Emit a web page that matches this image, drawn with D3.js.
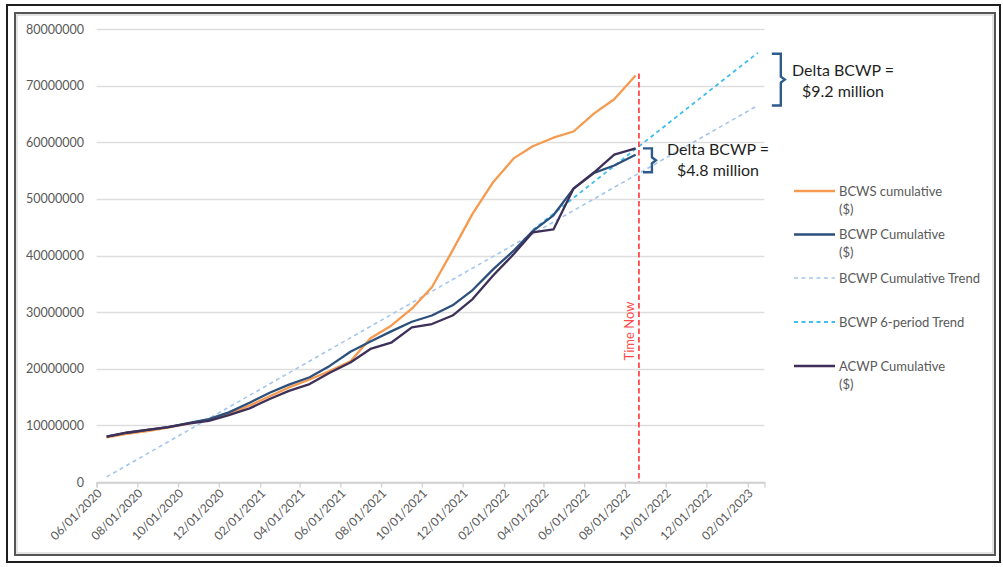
<!DOCTYPE html>
<html><head><meta charset="utf-8">
<script src="https://cdn.jsdelivr.net/npm/d3@7"></script>
<style>
body{margin:0;background:#fff;}
svg{display:block;font-family:Lato,"Open Sans",sans-serif;}
</style>
</head><body>
<svg id="chart" width="1003" height="567"></svg>
<script>
// ---- data ----
const dates = ["2020-06-16","2020-07-16","2020-08-16","2020-09-16","2020-10-16","2020-11-16","2020-12-16",
  "2021-01-16","2021-02-16","2021-03-16","2021-04-16","2021-05-16","2021-06-16","2021-07-16","2021-08-16",
  "2021-09-16","2021-10-16","2021-11-16","2021-12-16","2022-01-16","2022-02-16","2022-03-16","2022-04-16",
  "2022-05-16","2022-06-16","2022-07-16","2022-08-17"];
const bcws = [7.9e6,8.5e6,9.0e6,9.6e6,10.3e6,11.0e6,12.0e6,13.5e6,15.2e6,16.7e6,18.1e6,19.6e6,21.3e6,25.4e6,
  27.6e6,30.6e6,34.4e6,40.9e6,47.4e6,53.0e6,57.2e6,59.3e6,60.8e6,61.9e6,65.1e6,67.6e6,71.8e6];
const bcwp = [8.0e6,8.7e6,9.2e6,9.7e6,10.4e6,11.1e6,12.3e6,14.0e6,15.8e6,17.2e6,18.5e6,20.5e6,23.0e6,24.8e6,
  26.6e6,28.3e6,29.4e6,31.2e6,33.9e6,37.6e6,40.9e6,44.3e6,47.1e6,51.8e6,54.6e6,55.9e6,57.8e6];
const acwp = [8.0e6,8.7e6,9.2e6,9.7e6,10.3e6,10.8e6,11.8e6,13.0e6,14.7e6,16.1e6,17.3e6,19.3e6,21.1e6,23.5e6,
  24.6e6,27.3e6,27.9e6,29.4e6,32.3e6,36.5e6,40.3e6,44.1e6,44.6e6,51.8e6,54.7e6,57.8e6,58.9e6];
const trendDates = ["2020-06-16","2023-02-16"];
const trendValues = [0.9e6, 66.5e6];
const trend6Dates = ["2022-03-16","2023-02-16"];
const trend6Values = [44.5e6, 75.8e6];
const timeNowDate = "2022-08-22";
const xTickDates = ["2020-06-01","2020-08-01","2020-10-01","2020-12-01","2021-02-01","2021-04-01","2021-06-01",
  "2021-08-01","2021-10-01","2021-12-01","2022-02-01","2022-04-01","2022-06-01","2022-08-01","2022-10-01",
  "2022-12-01","2023-02-01"];
const xTickLabels = ["06/01/2020","08/01/2020","10/01/2020","12/01/2020","02/01/2021","04/01/2021","06/01/2021",
  "08/01/2021","10/01/2021","12/01/2021","02/01/2022","04/01/2022","06/01/2022","08/01/2022","10/01/2022",
  "12/01/2022","02/01/2023"];
const yTicks = [0,10000000,20000000,30000000,40000000,50000000,60000000,70000000,80000000];
const legendNames = [["BCWS cumulative","($)"],["BCWP Cumulative","($)"],["BCWP Cumulative Trend"],["BCWP 6-period Trend"],["ACWP Cumulative","($)"]];
const deltaLabels = [["Delta BCWP =","$9.2 million"],["Delta BCWP =","$4.8 million"]];

// ---- styles ----
const C = {bcws:"#F59A4E", bcwp:"#2D4F7C", acwp:"#3E2F58", trend:"#A4C6EC", trend6:"#3FBDF0", now:"#FF4B4B", brace:"#2E5A8C"};

const parse = d3.timeParse("%Y-%m-%d");
const svg = d3.select("#chart");

// frame
svg.append("rect").attr("x",0).attr("y",0).attr("width",1003).attr("height",567).attr("fill","#fff");
svg.append("rect").attr("x",7).attr("y",5).attr("width",993).attr("height",557).attr("fill","none").attr("stroke","#1e1e1e").attr("stroke-width",2);
svg.append("rect").attr("x",15).attr("y",13).attr("width",980).attr("height",542).attr("fill","none").attr("stroke","#555").attr("stroke-width",2);
svg.append("rect").attr("x",17).attr("y",15).attr("width",976).attr("height",538).attr("fill","none").attr("stroke","#c8c8c8").attr("stroke-width",1);

const x = d3.scaleTime().domain([parse("2020-06-01"), parse("2023-02-26")]).range([96.6, 764.5]);
const y = d3.scaleLinear().domain([0, 80000000]).range([482, 29]);

// gridlines
svg.append("g").selectAll("line").data(yTicks).join("line")
  .attr("x1", x.range()[0]).attr("x2", x.range()[1])
  .attr("y1", d=>Math.round(y(d))+0.5).attr("y2", d=>Math.round(y(d))+0.5)
  .attr("stroke", d=> d===0 ? "#d0d0d0" : "#dedede").attr("stroke-width",1.3);

// y labels
svg.append("g").selectAll("text").data(yTicks).join("text")
  .attr("x", 84).attr("y", d=>y(d)).attr("dy","0.36em").attr("text-anchor","end")
  .attr("font-size",12.5).attr("fill","#595959").text(d=>d3.format("d")(d));

// x axis
const xAxis = d3.axisBottom(x).tickValues(xTickDates.map(parse)).tickSize(5).tickFormat(()=> "");
const gx = svg.append("g").attr("transform","translate(0,482.5)").call(xAxis);
gx.select(".domain").attr("stroke","#d0d0d0").attr("stroke-width",1.3);
gx.selectAll(".tick line").attr("stroke","#d0d0d0").attr("stroke-width",1.3);
svg.append("g").selectAll("text").data(xTickDates).join("text")
  .attr("transform",(d)=>`translate(${x(parse(d))+3},${491}) rotate(-45)`)
  .attr("text-anchor","end").attr("dy","0.35em")
  .attr("font-size",12).attr("fill","#595959")
  .text((d,i)=>xTickLabels[i]);

// lines
const line = d3.line().x(d=>x(d[0])).y(d=>y(d[1]));
function series(ds, vs){ return ds.map((d,i)=>[parse(d), vs[i]]); }

svg.append("path").datum(series(trendDates,trendValues)).attr("d",line)
  .attr("fill","none").attr("stroke",C.trend).attr("stroke-width",1.6).attr("stroke-dasharray","4,3.5");
svg.append("path").datum(series(trend6Dates,trend6Values)).attr("d",line)
  .attr("fill","none").attr("stroke",C.trend6).attr("stroke-width",1.8).attr("stroke-dasharray","4,3.5");
svg.append("path").datum(series(dates,bcws)).attr("d",line)
  .attr("fill","none").attr("stroke",C.bcws).attr("stroke-width",2.3).attr("stroke-linejoin","round");
svg.append("path").datum(series(dates,bcwp)).attr("d",line)
  .attr("fill","none").attr("stroke",C.bcwp).attr("stroke-width",2.3).attr("stroke-linejoin","round");
svg.append("path").datum(series(dates,acwp)).attr("d",line)
  .attr("fill","none").attr("stroke",C.acwp).attr("stroke-width",2.3).attr("stroke-linejoin","round");

// Time Now
const tn = x(parse(timeNowDate));
svg.append("line").attr("x1",tn).attr("x2",tn).attr("y1",y(bcws[bcws.length-1])-2).attr("y2",y(0))
  .attr("stroke",C.now).attr("stroke-width",1.8).attr("stroke-dasharray","5.5,3");
svg.append("text").attr("transform",`translate(${tn-5},${331}) rotate(-90)`).attr("text-anchor","middle")
  .attr("font-size",13).attr("fill",C.now).text("Time Now");

// braces
function brace(xl, yTop, yBot, w){
  const vx = xl + w, mid = (yTop+yBot)/2;
  return `M${xl},${yTop}H${vx}V${mid-3}L${vx+4},${mid}L${vx},${mid+3}V${yBot}H${xl}`;
}
const endT = parse(trendDates[1]);
svg.append("path").attr("d",brace(x(endT)+14, y(trend6Values[1])+1, y(trendValues[1]), 9))
  .attr("fill","none").attr("stroke",C.brace).attr("stroke-width",2.4);
const tnTrend = trendValues[0] + (trendValues[1]-trendValues[0])*(parse(timeNowDate)-parse(trendDates[0]))/(endT-parse(trendDates[0]));
const tn6 = trend6Values[0] + (trend6Values[1]-trend6Values[0])*(parse(timeNowDate)-parse(trend6Dates[0]))/(endT-parse(trend6Dates[0]));
svg.append("path").attr("d",brace(tn+4, y(tn6)+2, y(tnTrend)-1, 9))
  .attr("fill","none").attr("stroke",C.brace).attr("stroke-width",2.4);

// delta labels
const dl = [[843,76,97],[718,155,176]];
deltaLabels.forEach((lbl,i)=>{
  const t = svg.append("text").attr("text-anchor","middle").attr("font-size",16).attr("fill","#1f1f1f");
  t.append("tspan").attr("x",dl[i][0]).attr("y",dl[i][1]).text(lbl[0]);
  t.append("tspan").attr("x",dl[i][0]).attr("y",dl[i][2]).text(lbl[1]);
});

// legend
const legY = [191, 234.5, 278, 322, 366];
const legStyle = [
  {c:C.bcws,dash:null,w:2.3},{c:C.bcwp,dash:null,w:2.3},{c:C.trend,dash:"4,3.5",w:1.6},
  {c:C.trend6,dash:"4,3.5",w:1.8},{c:C.acwp,dash:null,w:2.3}];
const lg = svg.append("g").selectAll("g").data(legendNames).join("g");
lg.append("line").attr("x1",794).attr("x2",835).attr("y1",(d,i)=>legY[i]).attr("y2",(d,i)=>legY[i])
  .attr("stroke",(d,i)=>legStyle[i].c).attr("stroke-width",(d,i)=>legStyle[i].w)
  .attr("stroke-dasharray",(d,i)=>legStyle[i].dash);
lg.each(function(d,i){
  const t = d3.select(this).append("text").attr("font-size",13).attr("fill","#595959");
  d.forEach((s,j)=> t.append("tspan").attr("x",839).attr("y",legY[i]+4.5+j*18).text(s));
});
</script>
</body></html>
